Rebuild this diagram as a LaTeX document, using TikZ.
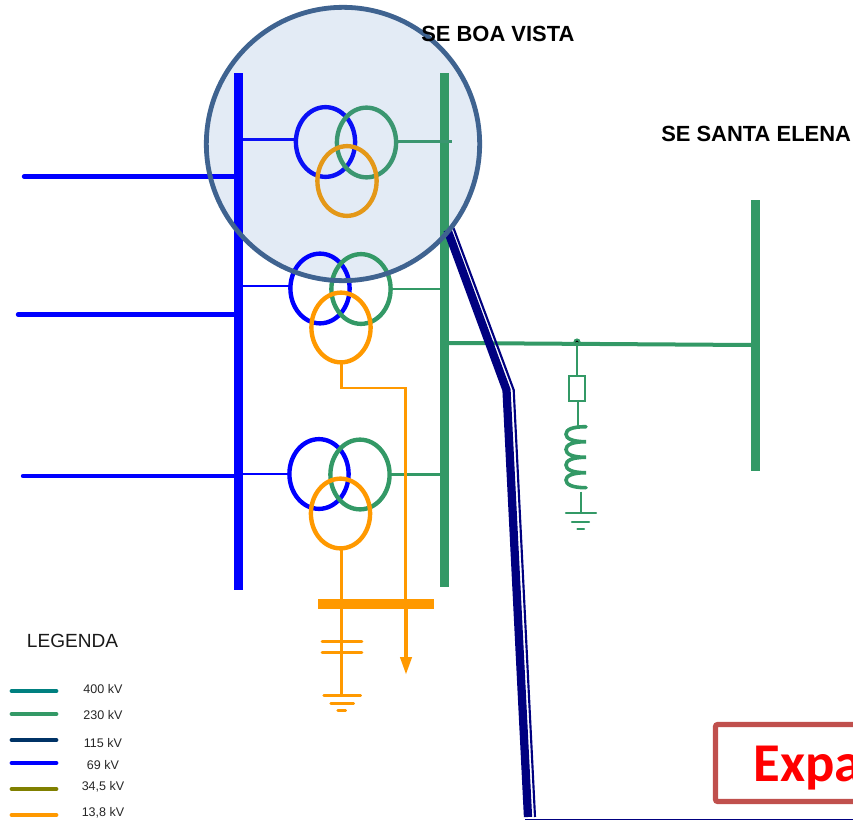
\documentclass[tikz,border=0pt]{standalone}
\usepackage{fontspec}
\setmainfont{Liberation Sans}
\newfontfamily\carlitofont{Carlito}
\usetikzlibrary{shapes.geometric,arrows.meta,calc}
\definecolor{gr}{HTML}{339966}
\definecolor{grin}{HTML}{3B9670}
\definecolor{bl}{HTML}{0000FF}
\definecolor{blin}{HTML}{0A10F5}
\definecolor{og}{HTML}{FF9900}
\definecolor{ogin}{HTML}{E49818}
\definecolor{nv}{HTML}{000080}
\definecolor{lensfill}{HTML}{E3EBF5}
\definecolor{lensline}{HTML}{3F6390}
\definecolor{boxline}{HTML}{C0504D}
\tikzset{
  x=0.75pt,y=-0.75pt,
  bus/.style={rectangle,inner sep=0pt,outer sep=0pt,draw=none},
  coilx/.style={ellipse,draw,line width=3.3pt,inner sep=0pt,outer sep=0pt,minimum width=44.4pt,minimum height=52.3pt},
  stub/.style={line width=1.7pt},
  feeder/.style={line width=3.3pt,color=bl,line cap=round},
  thinline/.style={line width=1.9pt},
  thingreen/.style={line width=1.7pt,color=gr},
  leg/.style={line width=3.6pt,line cap=round},
  legtext/.style={font=\fontsize{9.4pt}{10pt}\selectfont,text=black!85,inner sep=0pt},
  title/.style={font=\fontsize{16.45pt}{18pt}\selectfont\bfseries,text=black,inner sep=0pt},
}
\begin{document}
\begin{tikzpicture}
\useasboundingbox (0,0) rectangle (853,820);
\clip (0,0) rectangle (853,820);
% lens background
\node[circle,fill=lensfill,inner sep=0pt,outer sep=0pt,minimum size=205pt] (lens) at (343,144) {};
% feeders
\coordinate (f1) at (24,176.5);
\coordinate (f2) at (18,314.5);
\coordinate (f3) at (23,476);
% buses
\node[bus,fill=bl,minimum width=6.75pt,minimum height=387.75pt] (bb) at (238.5,331.5) {};
\node[bus,fill=gr,minimum width=6.75pt,minimum height=385.5pt] (gb) at (444.5,330) {};
\node[bus,fill=gr,minimum width=6.75pt,minimum height=203.25pt] (se) at (755.5,335.5) {};
\node[bus,fill=og,minimum width=87pt,minimum height=7.5pt] (ob) at (376,604) {};
\draw[feeder] (f1) -- (f1 -| bb.west);
\draw[feeder] (f2) -- (f2 -| bb.west);
\draw[feeder] (f3) -- (f3 -| bb.west);
% main 230 kV line
\coordinate (gl) at (449,343);
\coordinate (gr2) at (751,345);
\draw[gr,line width=3pt] (gl) -- (gr2);
% transformers
\node[coilx,draw=blin] (t1b) at (325.5,142) {};
\node[coilx,draw=grin] (t1g) at (366.5,142.5) {};
\node[coilx,draw=ogin] (t1o) at (347,181) {};
\node[coilx,draw=bl] (t2b) at (320,288.5) {};
\node[coilx,draw=gr] (t2g) at (361,289) {};
\node[coilx,draw=og] (t2o) at (341,327.5) {};
\node[coilx,draw=bl] (t3b) at (319,474) {};
\node[coilx,draw=gr] (t3g) at (360,474.5) {};
\node[coilx,draw=og] (t3o) at (340.5,513.5) {};
% stubs
\draw[stub,blin] (t1b.175) -- (t1b.175 -| bb.east);
\coordinate (t1end) at (452,141.5);
\draw[stub,grin] (t1end -| t1g.east) -- (t1end);
\draw[stub,bl] (t2b.175) -- (t2b.175 -| bb.east);
\draw[stub,gr] (t2g.east) -- (t2g.east -| gb.west);
\draw[stub,bl] (t3b.west) -- (t3b.west -| bb.east);
\draw[stub,gr] (t3g.east) -- (t3g.east -| gb.west);
% orange wiring
\coordinate (bend1) at (341.5,388);
\coordinate (bend2) at (405.5,388);
\coordinate (tip) at (406,675);
\draw[thinline,og] (t2o.south -| bend1) -- (bend1) -- (bend2) -- (bend2 |- ob.north);
\draw[og,line width=3pt,-{Triangle[width=8.25pt,length=13.5pt]}] (tip |- ob.south) -- (tip);
\draw[thinline,og] (bend1 |- t3o.south) -- (bend1 |- ob.north);
% capacitor and ground
\coordinate (cg) at (341.7,695.7);
\draw[thinline,og] (cg |- ob.south) -- (cg);
\coordinate (c1) at (342,641.7);
\coordinate (c2) at (342,652.3);
\draw[thinline,og,line cap=round] ($(c1)+(-20,0)$) -- ($(c1)+(20,0)$);
\draw[thinline,og,line cap=round] ($(c2)+(-20,0)$) -- ($(c2)+(20,0)$);
\draw[thinline,og,line cap=round] ($(cg)+(-18,0)$) -- ($(cg)+(19,0)$);
\draw[thinline,og,line cap=round] ($(cg)+(-11,7.6)$) -- ($(cg)+(12,7.6)$);
\draw[thinline,og,line cap=round] ($(cg)+(-4,15)$) -- ($(cg)+(4,15)$);
% reactor
\coordinate (rj) at (577,342);
\fill[gr] (rj) circle (3.6);
\fill[black] (rj) circle (1.7);
\node[rectangle,draw=gr,line width=1.6pt,inner sep=0pt,outer sep=0pt,minimum width=12.2pt,minimum height=18.7pt] (rr) at (577.2,388.2) {};
\draw[thingreen] (rj) -- (rr.north -| rj);
\coordinate (ct) at (578.3,425.5);
\draw[thingreen] (rr.south -| ct) -- (ct);
\draw[gr,line width=2.7pt,line cap=round] (586,426.7)
  .. controls (572,426.7) and (566,429.5) .. (566,434.2)
  .. controls (566,438.5) and (572,441.7) .. (586,441.7)
  .. controls (572,441.7) and (566,445) .. (566,449.5)
  .. controls (566,454) and (572,457.3) .. (586,457.3)
  .. controls (572,457.3) and (566,460.5) .. (566,465)
  .. controls (566,469.5) and (572,472.7) .. (586,472.7)
  .. controls (572,472.7) and (566,476) .. (566,480)
  .. controls (566,484.5) and (572,487.7) .. (586,487.7);
\coordinate (gt) at (581,491.5);
\coordinate (gg) at (581,513.3);
\draw[thingreen] (gt) -- (gg);
\draw[thingreen,line cap=round] ($(gg)+(-15,0)$) -- ($(gg)+(15,0)$);
\draw[thingreen,line cap=round] ($(gg)+(-9,8.4)$) -- ($(gg)+(8,8.4)$);
\draw[thingreen,line cap=round] ($(gg)+(-3.5,16)$) -- ($(gg)+(3,16)$);
% 115 kV line
\coordinate (n1) at (447.5,230);
\coordinate (n2) at (506.5,390);
\coordinate (n3) at (528,817);
\coordinate (m1) at (453.5,228);
\coordinate (m2) at (513.7,390);
\coordinate (m3) at (535,817);
\draw[nv,line width=6.2pt,line join=miter] (n1) -- (n2) -- (n3);
\draw[nv,line width=1.6pt] (m1) -- (m2) -- (m3);
\coordinate (h1) at (525,819.3);
\coordinate (h2) at (853,819.3);
\draw[nv,line width=0.9pt] (h1) -- (h2);
% lens ring
\node[circle,draw=lensline,line width=3.6pt,inner sep=0pt,outer sep=0pt,minimum size=205pt] (ring) at (lens) {};
% titles
\node[title,anchor=west] (tba) at (421,34) {SE BOA VISTA};
\node[title,anchor=west] (tse) at (661,133.5) {SE SANTA ELENA};
% expansion box
\node[rectangle,draw=boxline,line width=3.8pt,rounded corners=1.5pt,inner sep=0pt,outer sep=0pt,minimum width=200pt,minimum height=57.75pt,anchor=north west] (xbox) at (715.5,724.5) {};
\node[anchor=base west,inner sep=0pt,font=\carlitofont\fontsize{41pt}{44pt}\selectfont\bfseries,text=red] (xt) at (753.5,781.5) {Expa};
% legend
\node[anchor=center,inner sep=0pt,font=\fontsize{14.3pt}{16pt}\selectfont,text=black!90] (lg) at (72.5,641) {LEGENDA};
\foreach \n/\c/\ly/\ty/\tx/\lab in {a/008080/691/689/103/400 kV, b/339966/714/715/103/230 kV, c/003366/740/743/103/115 kV, d/0000FF/763/765.5/103/69 kV, e/808000/789/787/103/{34,5 kV}, f/FF9900/815/813/103/{13,8 kV}}{
  \definecolor{lc}{HTML}{\c}
  \coordinate (l\n a) at (12,\ly);
  \coordinate (l\n b) at (56,\ly);
  \draw[leg,lc] (l\n a) -- (l\n b);
  \node[legtext] (t\n) at (\tx,\ty) {\lab};
}
\end{tikzpicture}
\end{document}
